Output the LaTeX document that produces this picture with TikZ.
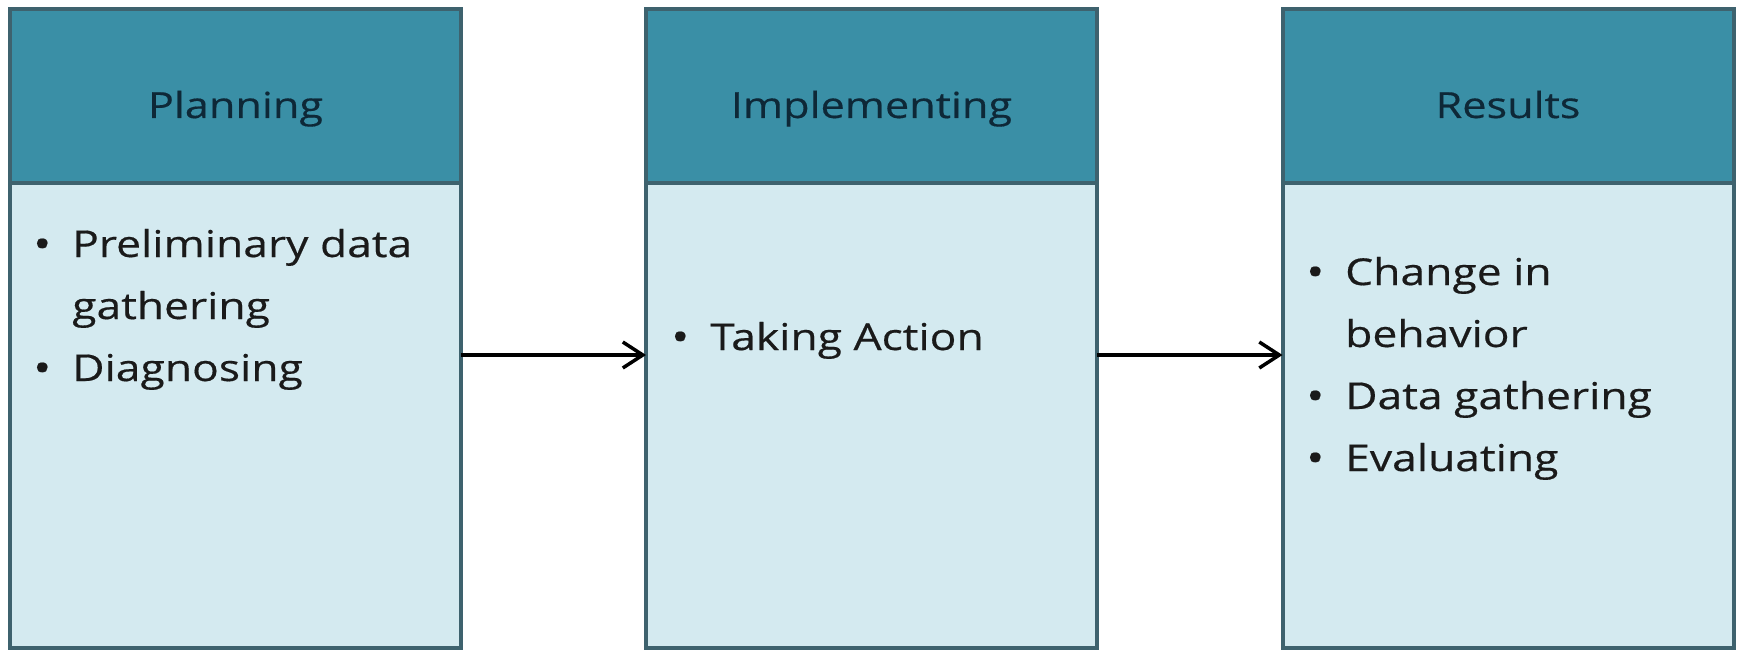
\documentclass[tikz,border=0pt]{standalone}
\usepackage{fontspec}
\setmainfont[FakeStretch=1.2,FakeBold=0.4]{Open Sans}
\usetikzlibrary{arrows.meta}
\definecolor{headfill}{HTML}{3A8FA6}
\definecolor{bodyfill}{HTML}{D4EAF0}
\definecolor{boxline}{HTML}{3E626E}
\definecolor{headtext}{HTML}{0E2837}
\definecolor{bodytext}{HTML}{1A1A1A}
% bullet mark with a fixed-width slot before the item text
\newcommand{\bl}{\makebox[39pt][l]{\raisebox{-1pt}{\fontsize{40}{40}\selectfont\textbullet}}}
\newcommand{\nobl}{\makebox[39pt]{}}
\begin{document}
\begin{tikzpicture}[x=1pt,y=-1pt,
  headbox/.style={rectangle,draw=boxline,fill=headfill,line width=4pt,
    minimum width=451pt,minimum height=174pt,inner sep=0pt,outer sep=0pt},
  bodybox/.style={rectangle,draw=boxline,fill=bodyfill,line width=4pt,
    minimum width=451pt,minimum height=465pt,inner sep=0pt,outer sep=0pt},
  headlabel/.style={anchor=base,inner sep=0pt,text=headtext,
    font=\fontsize{36}{42}\selectfont},
  bodytxt/.style={anchor=base west,inner sep=0pt,text=bodytext,
    font=\fontsize{37}{62}\selectfont},
  flow/.style={line width=3.5pt,black,-{Straight Barb[length=20pt,width=26pt]}}]
\useasboundingbox (0,0) rectangle (1737,650);
\fill[white] (0,0) rectangle (1737,650);

% column boxes: body below, header on top
\node[bodybox] (b1) at (235.5,415.5) {};
\node[bodybox] (b2) at (871.5,415.5) {};
\node[bodybox] (b3) at (1508,415.5) {};
\node[headbox] (h1) at (235.5,96) {};
\node[headbox] (h2) at (871.5,96) {};
\node[headbox] (h3) at (1508,96) {};

% header titles
\node[headlabel] (t1) at (235.5,118) {Planning};
\node[headlabel] (t2) at (871.5,118) {Implementing};
\node[headlabel] (t3) at (1508,118) {Results};

% bullet lists
\node[bodytxt] (l1) at (33,257) {\begin{tabular}[t]{@{}l@{}}
  \bl Preliminary data\\ \nobl gathering\\ \bl Diagnosing\end{tabular}};
\node[bodytxt] (l2) at (671,350) {\begin{tabular}[t]{@{}l@{}}
  \bl Taking Action\end{tabular}};
\node[bodytxt] (l3) at (1306,285) {\begin{tabular}[t]{@{}l@{}}
  \bl Change in\\ \nobl behavior\\ \bl Data gathering\\ \bl Evaluating\end{tabular}};

% flow arrows
\draw[flow] ([yshift=60.5pt]b1.east) -- ([yshift=60.5pt]b2.west);
\draw[flow] ([yshift=60.5pt]b2.east) -- ([yshift=60.5pt]b3.west);
\end{tikzpicture}
\end{document}
